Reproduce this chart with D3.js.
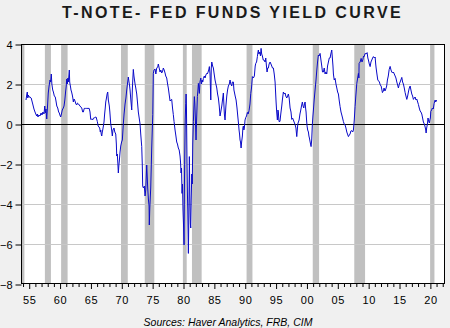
<!DOCTYPE html>
<html>
<head>
<meta charset="utf-8">
<script src="https://cdn.jsdelivr.net/npm/d3@7"></script>
<style>
  html, body { margin: 0; padding: 0; background: #f0f0f0; }
  svg { display: block; }
  text { font-family: "Liberation Sans", Arial, sans-serif; }
</style>
</head>
<body>
<svg id="chart" width="450" height="328"></svg>
<script>
// ---- data (decimal years, 10y T-note minus fed funds, %) ----
const years = [
1954.56,1954.7,1954.77,1954.85,1954.93,1955.05,1955.21,1955.4,1955.65,1955.85,
1956.02,1956.15,1956.29,1956.4,1956.5,1956.65,1956.83,1957.0,1957.15,1957.3,
1957.48,1957.6,1957.7,1957.8,1957.92,1958.05,1958.17,1958.3,1958.45,1958.55,
1958.66,1958.75,1958.89,1959.0,1959.15,1959.3,1959.42,1959.55,1959.7,1959.85,
1959.96,1960.05,1960.18,1960.3,1960.44,1960.6,1960.72,1960.85,1960.99,1961.08,
1961.16,1961.25,1961.35,1961.42,1961.5,1961.58,1961.64,1961.69,1961.78,1961.85,
1961.95,1962.06,1962.15,1962.23,1962.35,1962.5,1962.65,1962.78,1962.9,1963.07,
1963.3,1963.45,1963.59,1963.75,1963.85,1964.0,1964.2,1964.4,1964.6,1964.8,
1964.93,1965.05,1965.2,1965.35,1965.5,1965.65,1965.8,1965.91,1966.05,1966.12,
1966.25,1966.39,1966.5,1966.6,1966.67,1966.75,1966.83,1966.92,1966.99,1967.1,
1967.2,1967.3,1967.4,1967.48,1967.6,1967.7,1967.8,1967.9,1968.06,1968.15,
1968.29,1968.4,1968.55,1968.65,1968.82,1968.95,1969.1,1969.2,1969.26,1969.35,
1969.45,1969.52,1969.6,1969.68,1969.8,1969.91,1970.05,1970.17,1970.25,1970.33,
1970.45,1970.61,1970.75,1970.88,1971.0,1971.14,1971.25,1971.35,1971.42,1971.55,
1971.69,1971.8,1971.95,1972.05,1972.23,1972.35,1972.5,1972.62,1972.76,1972.9,
1973.04,1973.15,1973.31,1973.4,1973.47,1973.6,1973.73,1973.85,1973.96,1974.05,
1974.12,1974.2,1974.28,1974.4,1974.5,1974.54,1974.62,1974.77,1974.85,1974.93,
1975.02,1975.1,1975.19,1975.3,1975.47,1975.6,1975.74,1975.9,1976.0,1976.1,
1976.28,1976.4,1976.55,1976.7,1976.81,1976.95,1977.09,1977.2,1977.36,1977.5,
1977.62,1977.75,1977.9,1978.05,1978.17,1978.3,1978.43,1978.55,1978.71,1978.85,
1978.98,1979.1,1979.24,1979.38,1979.52,1979.6,1979.68,1979.76,1979.84,1979.92,
1980.0,1980.1,1980.17,1980.22,1980.28,1980.36,1980.44,1980.5,1980.56,1980.65,
1980.72,1980.77,1980.87,1980.95,1981.03,1981.1,1981.2,1981.25,1981.33,1981.42,
1981.5,1981.58,1981.68,1981.76,1981.84,1981.92,1982.0,1982.11,1982.2,1982.33,
1982.42,1982.49,1982.57,1982.65,1982.75,1982.88,1983.0,1983.09,1983.2,1983.3,
1983.45,1983.57,1983.7,1983.85,1983.95,1984.06,1984.17,1984.27,1984.38,1984.5,
1984.58,1984.66,1984.8,1984.92,1985.05,1985.19,1985.33,1985.47,1985.6,1985.73,
1985.87,1986.0,1986.12,1986.28,1986.4,1986.54,1986.62,1986.7,1986.81,1986.95,
1987.09,1987.22,1987.35,1987.5,1987.62,1987.75,1987.9,1988.0,1988.16,1988.25,
1988.32,1988.45,1988.6,1988.75,1988.87,1989.0,1989.08,1989.16,1989.24,1989.32,
1989.41,1989.5,1989.62,1989.7,1989.78,1989.86,1989.94,1990.05,1990.17,1990.3,
1990.43,1990.55,1990.7,1990.85,1990.98,1991.1,1991.24,1991.4,1991.56,1991.7,
1991.79,1991.92,1992.05,1992.15,1992.21,1992.3,1992.44,1992.55,1992.65,1992.75,
1992.86,1993.0,1993.13,1993.3,1993.41,1993.52,1993.62,1993.72,1993.83,1993.95,
1994.11,1994.25,1994.38,1994.5,1994.64,1994.78,1994.92,1995.0,1995.08,1995.18,
1995.29,1995.38,1995.45,1995.53,1995.61,1995.72,1995.84,1996.0,1996.1,1996.26,
1996.4,1996.54,1996.65,1996.81,1996.95,1997.07,1997.2,1997.35,1997.5,1997.62,
1997.75,1997.88,1998.0,1998.16,1998.3,1998.43,1998.52,1998.6,1998.7,1998.81,
1998.95,1999.08,1999.2,1999.34,1999.45,1999.57,1999.68,1999.78,1999.86,1999.94,
2000.02,2000.1,2000.2,2000.32,2000.4,2000.48,2000.6,2000.75,2000.85,2000.96,
2001.05,2001.13,2001.25,2001.4,2001.55,2001.68,2001.8,2001.93,2002.05,2002.21,
2002.35,2002.48,2002.6,2002.74,2002.88,2003.02,2003.15,2003.29,2003.42,2003.56,
2003.7,2003.83,2003.95,2004.1,2004.2,2004.3,2004.37,2004.5,2004.64,2004.78,
2004.92,2005.05,2005.18,2005.3,2005.45,2005.6,2005.73,2005.85,2005.99,2006.12,
2006.26,2006.4,2006.54,2006.65,2006.8,2006.95,2007.07,2007.2,2007.35,2007.5,
2007.61,2007.75,2007.88,2008.0,2008.16,2008.3,2008.42,2008.5,2008.53,2008.7,
2008.86,2009.0,2009.13,2009.25,2009.34,2009.51,2009.65,2009.83,2009.95,2010.04,
2010.18,2010.32,2010.45,2010.59,2010.72,2010.85,2011.0,2011.13,2011.22,2011.29,
2011.42,2011.56,2011.7,2011.82,2011.96,2012.1,2012.2,2012.31,2012.45,2012.58,
2012.72,2012.86,2013.0,2013.12,2013.26,2013.4,2013.56,2013.7,2013.83,2013.96,
2014.09,2014.23,2014.37,2014.5,2014.64,2014.78,2014.9,2015.05,2015.18,2015.3,
2015.45,2015.58,2015.71,2015.85,2015.99,2016.12,2016.26,2016.4,2016.52,2016.66,
2016.8,2016.93,2017.07,2017.2,2017.33,2017.47,2017.61,2017.75,2017.88,2018.02,
2018.14,2018.28,2018.42,2018.55,2018.69,2018.82,2018.95,2019.1,2019.23,2019.33,
2019.39,2019.48,2019.6,2019.7,2019.76,2019.85,2019.92,2020.0,2020.08,2020.15,
2020.28,2020.41,2020.55,2020.69,2020.85,2020.95,2021.09
];
const spread = [
1.2,1.5,1.6,1.3,1.45,1.35,1.35,1.3,1.0,0.75,
0.6,0.5,0.4,0.5,0.35,0.45,0.4,0.55,0.45,0.6,
0.5,0.9,0.55,0.75,0.25,0.9,1.55,1.9,2.2,2.1,
2.5,2.0,1.7,1.6,1.4,1.35,1.15,0.9,0.8,0.6,
0.55,0.45,0.35,0.5,0.7,0.8,0.9,1.2,1.65,1.9,
2.25,2.0,2.3,2.1,2.4,2.7,2.1,2.0,1.85,1.7,
1.6,1.45,1.3,1.1,1.25,1.15,1.0,0.95,1.05,1.0,
0.9,0.85,0.8,0.6,0.6,0.78,0.78,0.78,0.78,0.78,
0.6,0.23,0.25,0.2,0.3,0.3,0.35,0.35,0.2,0.12,
-0.1,-0.15,-0.2,-0.4,-0.3,-0.5,-0.6,-0.4,-0.3,-0.1,
0.1,0.5,0.8,1.1,1.3,1.5,1.6,1.2,0.9,0.6,
0.0,-0.2,-0.6,-0.3,-0.2,-0.4,-0.5,-1.0,-1.6,-1.5,
-2.0,-2.45,-2.1,-1.85,-1.4,-1.1,-0.9,-0.8,-0.4,0.0,
0.5,1.0,1.3,1.7,2.0,2.35,2.1,1.9,1.7,1.2,
0.7,1.8,2.73,2.4,2.0,1.8,1.5,1.1,0.6,0.3,
0.0,-0.5,-1.13,-2.0,-3.13,-3.2,-3.1,-3.6,-3.3,-2.6,
-2.05,-2.6,-3.2,-3.8,-4.1,-5.05,-4.2,-3.2,-2.2,-1.2,
-0.3,0.47,2.53,2.7,2.75,2.5,2.8,2.85,3.0,2.85,
2.6,2.7,2.55,2.65,2.8,2.7,2.55,2.4,2.3,2.0,
1.8,1.5,1.15,1.2,1.23,0.8,0.47,0.12,-0.3,-0.6,
-0.9,-1.0,-1.2,-1.3,-1.6,-1.9,-2.45,-2.2,-3.47,-3.0,
-4.3,-5.2,-6.05,-3.5,-1.6,0.2,1.03,1.5,0.8,-2.0,
-3.5,-4.3,-6.47,-4.5,-1.63,-3.5,-5.0,-5.2,-3.8,-2.5,
-3.0,-1.0,0.13,0.8,1.37,1.0,0.3,-0.8,0.2,1.37,
1.7,2.03,1.8,1.53,2.1,2.3,2.0,2.2,2.1,2.28,
2.4,2.3,2.45,2.53,2.5,2.6,2.7,2.87,2.5,1.2,
2.8,3.1,2.9,2.8,2.5,2.2,2.0,1.8,1.5,1.3,
0.9,0.4,0.6,0.9,1.2,1.55,1.0,0.5,0.2,0.9,
1.4,1.7,1.9,2.0,2.2,2.0,1.9,2.1,2.1,1.7,
1.6,1.4,1.2,0.8,0.4,0.0,-0.3,-0.5,-0.8,-0.9,
-1.2,-0.9,-0.6,-0.2,-0.1,-0.3,-0.2,0.2,0.33,0.4,
0.58,0.5,0.67,1.0,1.53,1.8,2.37,2.3,2.4,2.9,
3.03,3.1,3.37,3.6,3.7,3.5,3.6,3.4,3.78,3.5,
3.4,3.2,3.2,3.1,3.3,2.9,2.6,2.8,2.8,3.0,
3.1,3.0,2.9,2.8,2.8,2.5,2.1,1.6,1.1,0.6,
0.2,0.7,0.6,0.2,0.1,0.15,0.5,0.9,1.2,1.6,
1.5,1.55,1.4,1.3,1.4,1.5,1.3,0.8,0.6,0.23,
0.3,0.2,0.1,-0.03,-0.2,-0.63,-0.3,0.0,0.1,0.2,
0.5,0.7,0.9,1.1,0.9,0.8,1.0,1.1,0.8,0.6,
0.2,-0.1,-0.3,-0.4,-0.6,-0.7,-0.9,-1.13,-0.8,0.0,
0.4,0.7,1.2,1.7,2.2,2.7,3.1,3.45,3.4,3.53,
3.2,2.9,2.6,2.6,2.8,2.5,2.6,2.5,2.9,3.1,
3.3,3.3,3.5,3.7,3.3,2.9,2.5,2.2,2.28,2.0,
1.8,1.6,1.5,1.2,0.87,0.6,0.45,0.3,0.12,0.0,
-0.05,-0.2,-0.4,-0.5,-0.63,-0.55,-0.5,-0.35,-0.33,-0.4,
-0.3,0.2,0.87,1.4,2.03,2.3,2.53,2.3,3.03,3.1,
3.28,3.1,3.2,3.4,3.37,3.53,3.5,3.57,3.3,3.2,
3.0,2.87,3.1,3.2,3.3,3.37,3.3,3.35,3.0,2.8,
2.5,2.2,2.15,2.1,1.95,1.9,1.75,1.57,1.65,1.8,
1.65,1.75,1.9,2.2,2.4,2.72,2.88,2.7,2.6,2.55,
2.6,2.5,2.4,2.3,2.1,1.95,1.8,2.0,2.1,2.2,
2.33,2.1,2.0,1.8,1.57,1.4,1.23,1.4,1.6,1.8,
1.9,1.7,1.5,1.4,1.23,1.3,1.35,1.2,1.25,1.1,
0.98,0.8,0.65,0.6,0.5,0.3,0.1,0.0,-0.15,-0.3,
-0.45,-0.2,0.0,0.3,0.2,0.1,0.05,0.2,0.3,0.63,
0.7,0.8,0.75,1.03,1.2,1.1,1.2
];
// recession shading (decimal years)
const recessionStart = [1953.5, 1957.62, 1960.25, 1969.95, 1973.8, 1979.98, 1981.45, 1990.3, 2001.02, 2007.75, 2020.04];
const recessionEnd   = [1954.3, 1958.6, 1961.3, 1971.05, 1975.35, 1980.6, 1983.02, 1991.25, 2002.05, 2009.5, 2020.74];
const yTicks = [4, 2, 0, -2, -4, -6, -8];
const gridValues = [2, -2, -4, -6];
const xLabelYears = [1955,1960,1965,1970,1975,1980,1985,1990,1995,2000,2005,2010,2015,2020];
const titleText = "T-NOTE- FED FUNDS YIELD CURVE";
const sourceText = "Sources:  Haver Analytics, FRB, CIM";

// ---- layout ----
const L = 21, R = 445, T = 44, B = 284;
const svg = d3.select("#chart");
const x = d3.scaleLinear().domain([1953.75, 2022.45]).range([L, R]);
const y = d3.scaleLinear().domain([-8, 4]).range([B, T]);

svg.append("defs").append("clipPath").attr("id", "clip")
  .append("rect").attr("x", L).attr("y", T).attr("width", R - L).attr("height", B - T);

// plot background
svg.append("rect").attr("x", L).attr("y", T).attr("width", R - L).attr("height", B - T).attr("fill", "#ffffff");

// recession bars
const rec = recessionStart.map((s, i) => ({ s, e: recessionEnd[i] }));
svg.append("g").attr("clip-path", "url(#clip)").selectAll("rect").data(rec).join("rect")
  .attr("x", d => x(d.s)).attr("width", d => x(d.e) - x(d.s))
  .attr("y", T).attr("height", B - T).attr("fill", "#c0c0c0");

// gridlines
svg.append("g").selectAll("line").data(gridValues).join("line")
  .attr("x1", L).attr("x2", R).attr("y1", d => y(d) + 0.5).attr("y2", d => y(d) + 0.5)
  .attr("stroke", "#c8c8c8").attr("stroke-width", 1);

// zero line
svg.append("line").attr("x1", L).attr("x2", R).attr("y1", y(0) + 0.5).attr("y2", y(0) + 0.5)
  .attr("stroke", "#000").attr("stroke-width", 1);

// data line
const pts = years.map((yr, i) => [yr, spread[i]]);
svg.append("path").datum(pts).attr("clip-path", "url(#clip)")
  .attr("fill", "none").attr("stroke", "#0a0ac8").attr("stroke-width", 1.0)
  .attr("stroke-linejoin", "round")
  .attr("d", d3.line().x(d => x(d[0])).y(d => y(d[1])));

// frame
svg.append("rect").attr("x", L + 0.5).attr("y", T + 0.5).attr("width", R - L - 1).attr("height", B - T - 1)
  .attr("fill", "none").attr("stroke", "#000").attr("stroke-width", 1);

// y axis
const yAxis = d3.axisLeft(y).tickValues(yTicks).tickSize(6).tickPadding(3).tickFormat(d3.format("d"));
const gy = svg.append("g").attr("transform", `translate(${L + 0.5},0.5)`).call(yAxis);
gy.select(".domain").remove();
gy.selectAll("text").attr("font-family", "Liberation Sans, Arial, sans-serif").attr("font-size", 11).attr("fill", "#000");
gy.selectAll("line").attr("stroke", "#000");

// x axis: minor ticks each year, major at labels
const allYears = d3.range(1954, 2023);
const xMinor = d3.axisBottom(x).tickValues(allYears.filter(v => v % 5 !== 0)).tickSize(3).tickFormat("");
const gxm = svg.append("g").attr("transform", `translate(0.5,${B})`).call(xMinor);
gxm.select(".domain").remove();
gxm.selectAll("line").attr("stroke", "#000");
const xMajor = d3.axisBottom(x).tickValues(xLabelYears).tickSize(5).tickPadding(7)
  .tickFormat(v => String(v % 100).padStart(2, "0"));
const gx = svg.append("g").attr("transform", `translate(0.5,${B})`).call(xMajor);
gx.select(".domain").remove();
gx.selectAll("line").attr("stroke", "#000");
gx.selectAll("text").attr("font-family", "Liberation Sans, Arial, sans-serif").attr("font-size", 11)
  .attr("fill", "#000").attr("letter-spacing", "0.6px");

// title
svg.append("text").attr("x", 62).attr("y", 17.5).attr("text-anchor", "start")
  .attr("font-size", 16).attr("font-weight", "bold").attr("letter-spacing", "2.4px").attr("fill", "#1a1a1a")
  .text(titleText);

// source
svg.append("text").attr("x", 228).attr("y", 325.5).attr("text-anchor", "middle")
  .attr("font-size", 10.5).attr("font-style", "italic").attr("fill", "#000")
  .text(sourceText);
</script>
</body>
</html>
